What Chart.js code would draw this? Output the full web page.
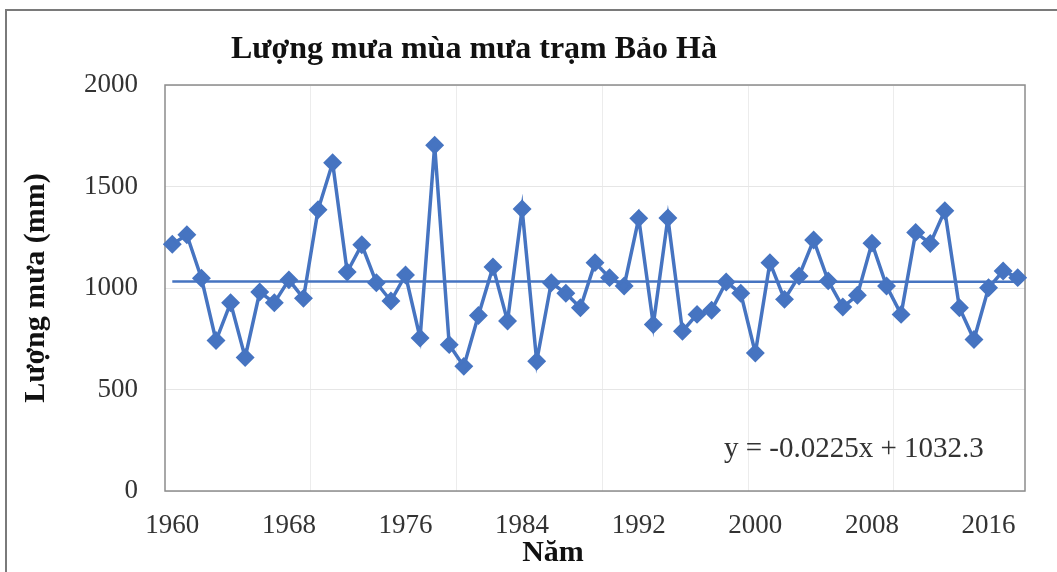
<!DOCTYPE html>
<html>
<head>
<meta charset="utf-8">
<script src="https://cdn.jsdelivr.net/npm/chart.js@4/dist/chart.umd.min.js"></script>
<style>
  html, body { margin: 0; padding: 0; background: #fff; }
  canvas { display: block; }
</style>
</head>
<body>
<canvas id="c" width="1057" height="572"></canvas>
<script>
// Rainy-season rainfall at Bảo Hà station, 1960–2018 (mm)
const years = [];
for (let y = 1960; y <= 2018; y++) years.push(String(y));

const rainfall = [
  1216, 1262, 1048, 741, 927, 658, 980, 927, 1040, 949,
  1385, 1617, 1079, 1213, 1026, 936, 1064, 754, 1703, 721,
  614, 865, 1104, 837, 1389, 639, 1026, 974, 903, 1125,
  1051, 1010, 1343, 820, 1345, 787, 870, 890, 1030, 974,
  680, 1125, 944, 1059, 1236, 1035, 906, 964, 1221, 1010,
  870, 1274, 1219, 1381, 903, 746, 1001, 1084, 1051
];

// Linear trend y = slope * x + intercept, x = 1..n
const trendSlope = -0.0225;
const trendIntercept = 1032.3;
const trendValues = years.map((_, i) => trendSlope * (i + 1) + trendIntercept);

const yTicks = [0, 500, 1000, 1500, 2000];
const labelEvery = 8;
const gridEvery = 10;

const titleText = 'Lượng mưa mùa mưa trạm Bảo Hà';
const xTitle = 'Năm';
const yTitle = 'Lượng mưa (mm)';
const equationText = 'y = ' + trendSlope + 'x + ' + trendIntercept;

const blue = '#4674c1';
const serif = '"Liberation Serif", "Times New Roman", serif';

const frame = {
  id: 'frame',
  beforeDatasetsDraw(chart) {
    const { ctx, chartArea: a } = chart;
    ctx.save();
    ctx.strokeStyle = '#8c8c8c';
    ctx.lineWidth = 1.5;
    ctx.strokeRect(a.left, a.top, a.right - a.left, a.bottom - a.top);
    ctx.restore();
  },
  afterDraw(chart) {
    const { ctx, chartArea: a } = chart;
    ctx.save();
    // outer chart border
    ctx.strokeStyle = '#7a7a7a';
    ctx.lineWidth = 2;
    ctx.beginPath();
    ctx.moveTo(6, chart.height);
    ctx.lineTo(6, 10);
    ctx.lineTo(chart.width, 10);
    ctx.stroke();

    ctx.fillStyle = '#111';
    ctx.textAlign = 'center';
    ctx.textBaseline = 'middle';
    ctx.font = 'bold 32px ' + serif;
    ctx.fillText(titleText, 474, 50);

    ctx.font = 'bold 30px ' + serif;
    ctx.fillText(xTitle, 553, 553);

    ctx.save();
    ctx.translate(36, (a.top + a.bottom) / 2);
    ctx.rotate(-Math.PI / 2);
    ctx.fillText(yTitle, 0, 0);
    ctx.restore();

    ctx.fillStyle = '#333';
    ctx.textAlign = 'left';
    ctx.font = '29px ' + serif;
    ctx.fillText(equationText, 724, 449);
    ctx.restore();
  }
};

new Chart(document.getElementById('c'), {
  type: 'line',
  data: {
    labels: years,
    datasets: [
      {
        label: 'Lượng mưa',
        data: rainfall,
        borderColor: blue,
        backgroundColor: blue,
        borderWidth: 3.5,
        pointStyle: 'rectRot',
        pointRadius: 7,
        pointBackgroundColor: blue,
        pointBorderColor: blue,
        tension: 0,
        order: 2
      },
      {
        label: 'Xu thế',
        data: trendValues,
        borderColor: blue,
        borderWidth: 2.5,
        pointRadius: 0,
        tension: 0,
        order: 1
      }
    ]
  },
  options: {
    responsive: false,
    animation: false,
    layout: { padding: { top: 85, right: 32, left: 0, bottom: 0 } },
    plugins: {
      legend: { display: false },
      title: { display: false },
      tooltip: { enabled: false }
    },
    scales: {
      x: {
        type: 'category',
        offset: true,
        border: { display: false },
        grid: {
          offset: true,
          drawTicks: false,
          lineWidth: 1,
          color: (ctx) => (ctx.index > 0 && ctx.index % gridEvery === 0) ? '#ececec' : 'rgba(0,0,0,0)'
        },
        ticks: {
          autoSkip: false,
          maxRotation: 0,
          minRotation: 0,
          padding: 19,
          color: '#333',
          font: { family: serif, size: 27 },
          callback: function (value, index) {
            return index % labelEvery === 0 ? years[index] : '';
          }
        },
        afterFit: (scale) => { scale.height = 81; }
      },
      y: {
        min: 0,
        max: 2000,
        border: { display: false },
        grid: { drawTicks: false, color: '#e6e6e6', lineWidth: 1 },
        afterBuildTicks: (scale) => { scale.ticks = yTicks.map(v => ({ value: v })); },
        ticks: {
          padding: 27,
          color: '#333',
          font: { family: serif, size: 27 },
          callback: (value) => String(value)
        },
        afterFit: (scale) => { scale.width = 165; }
      }
    }
  },
  plugins: [frame]
});
</script>
</body>
</html>
